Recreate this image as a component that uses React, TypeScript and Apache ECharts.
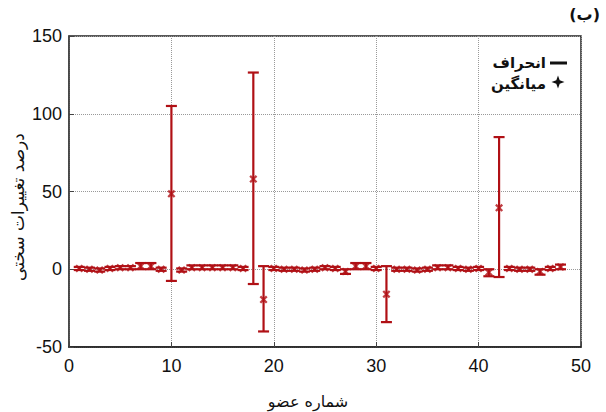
import React, { useEffect, useRef } from "react";
import * as echarts from "echarts";

const members = [1,2,3,4,5,6,7,8,9,10,11,12,13,14,15,16,17,18,19,20,21,22,23,24,25,26,27,28,29,30,31,32,33,34,35,36,37,38,39,40,41,42,43,44,45,46,47,48];
const means = [0.5,0,-0.5,0.5,1,1,2,2,0,48.5,-0.5,1,1,1,1,1,0.5,58,-19.5,0.5,0,0,-0.5,0,1,0.5,-1.5,2,2,0.5,-16,0,0,-0.5,0,1,1,0.5,0,0.5,-2,39.5,0.5,0,0,-1.5,0.5,1.5];
const lows = [-0.5,-1,-1.5,-0.5,0,0,0,0,-1,-7.5,-1.5,0,0,0,0,0,-0.5,-9.5,-40,-0.5,-1,-1,-1.5,-1,0,-0.5,-3,0,0,-0.5,-34,-1,-1,-1.5,-1,0,0,-0.5,-1,-0.5,-4.5,-5,-0.5,-1,-1,-3.5,-0.5,0];
const highs = [1.5,1,0.5,1.5,2,2,4,4,1,105,0.5,2.5,2.5,2.5,2.5,2.5,1.5,126.5,2,1.5,1,1,0.5,1,2,1.5,0,4,4,1.5,2,1,1,0.5,1,2.5,2.5,1.5,1,1.5,0,85,1.5,1,1,0,1.5,3];

const xTicks = [0, 10, 20, 30, 40, 50];
const yTicks = [-50, 0, 50, 100, 150];

const title = "(ب)";
const xName = "شماره عضو";
const yName = "درصد تغییرات سختی";
const legendDev = "انحراف";
const legendMean = "میانگین";

const RED = "#b01015";
const ARABIC_FONT = "'DejaVu Sans', 'Noto Sans', sans-serif";
const NUM_FONT = "'Liberation Sans', Arial, sans-serif";

export default function App() {
  const ref = useRef<HTMLDivElement>(null);
  useEffect(() => {
    if (!ref.current) return;
    const chart = echarts.init(ref.current, null, { renderer: "svg" });
    const barData = members.map((m, i) => [m, lows[i], highs[i]]);
    const meanData = members.map((m, i) => [m, means[i]]);
    const cx = 558, cy = 82, r = 6.5, q = 1.7;
    chart.setOption({
      animation: false,
      backgroundColor: "#ffffff",
      grid: { left: 69, right: 25, top: 36, bottom: 65, show: true, borderColor: "#222", borderWidth: 1.5 },
      xAxis: {
        type: "value",
        min: 0,
        max: 50,
        interval: 10,
        axisLine: { show: true, onZero: false, lineStyle: { color: "#222", width: 1.5 } },
        axisTick: { show: true, inside: true, length: 5, lineStyle: { color: "#444" } },
        axisLabel: { fontFamily: NUM_FONT, fontSize: 18, color: "#111", margin: 10, formatter: (v: number) => (xTicks.includes(v) ? String(v) : "") },
        splitLine: { show: true, lineStyle: { color: "#999", type: "dotted", width: 1 } },
      },
      yAxis: {
        type: "value",
        min: -50,
        max: 150,
        interval: 50,
        axisLine: { show: true, onZero: false, lineStyle: { color: "#444", width: 1.5 } },
        axisTick: { show: true, inside: true, length: 5, lineStyle: { color: "#444" } },
        axisLabel: { fontFamily: NUM_FONT, fontSize: 18, color: "#111", margin: 7, formatter: (v: number) => (yTicks.includes(v) ? String(v) : "") },
        splitLine: { show: true, lineStyle: { color: "#999", type: "dotted", width: 1 } },
      },
      series: [
        {
          type: "custom",
          name: legendDev,
          data: barData,
          renderItem: (params: any, api: any) => {
            const x = api.value(0);
            const lo = api.value(1);
            const hi = api.value(2);
            const pHi = api.coord([x, hi]);
            const pLo = api.coord([x, lo]);
            const w = 5.5;
            const style = { stroke: RED, lineWidth: 2.2 };
            return {
              type: "group",
              children: [
                { type: "line", shape: { x1: pHi[0], y1: pHi[1], x2: pLo[0], y2: pLo[1] }, style },
                { type: "line", shape: { x1: pHi[0] - w, y1: pHi[1], x2: pHi[0] + w, y2: pHi[1] }, style },
                { type: "line", shape: { x1: pLo[0] - w, y1: pLo[1], x2: pLo[0] + w, y2: pLo[1] }, style },
              ],
            };
          },
          z: 2,
        },
        {
          type: "scatter",
          name: legendMean,
          data: meanData,
          symbol: "path://M0,2 L2,0 L5,3 L8,0 L10,2 L7,5 L10,8 L8,10 L5,7 L2,10 L0,8 L3,5 Z",
          symbolSize: 8,
          itemStyle: { color: RED },
          z: 3,
        },
      ],
      graphic: [
        { type: "text", right: 6, top: 6, style: { text: title, font: `bold 16px ${ARABIC_FONT}`, fill: "#111" } },
        { type: "text", x: 308, y: 401, style: { text: xName, font: `16px ${ARABIC_FONT}`, fill: "#111", align: "center", verticalAlign: "middle" } },
        { type: "text", x: 18, y: 207, rotation: Math.PI / 2, style: { text: yName, font: `17px ${ARABIC_FONT}`, fill: "#111", align: "center", verticalAlign: "middle" } },
        { type: "line", shape: { x1: 550, y1: 63, x2: 567, y2: 63 }, style: { stroke: "#111", lineWidth: 3 } },
        { type: "text", x: 546, y: 63, style: { text: legendDev, font: `bold 15px ${ARABIC_FONT}`, fill: "#111", align: "right", verticalAlign: "middle" } },
        {
          type: "polygon",
          shape: { points: [[cx, cy - r], [cx + q, cy - q], [cx + r, cy], [cx + q, cy + q], [cx, cy + r], [cx - q, cy + q], [cx - r, cy], [cx - q, cy - q]] },
          style: { fill: "#111" },
        },
        { type: "text", x: 546, y: 84, style: { text: legendMean, font: `bold 15px ${ARABIC_FONT}`, fill: "#111", align: "right", verticalAlign: "middle" } },
      ],
    });
    return () => chart.dispose();
  }, []);
  return <div ref={ref} style={{ position: "fixed", left: 0, top: 0, width: 606, height: 412 }} />;
}
